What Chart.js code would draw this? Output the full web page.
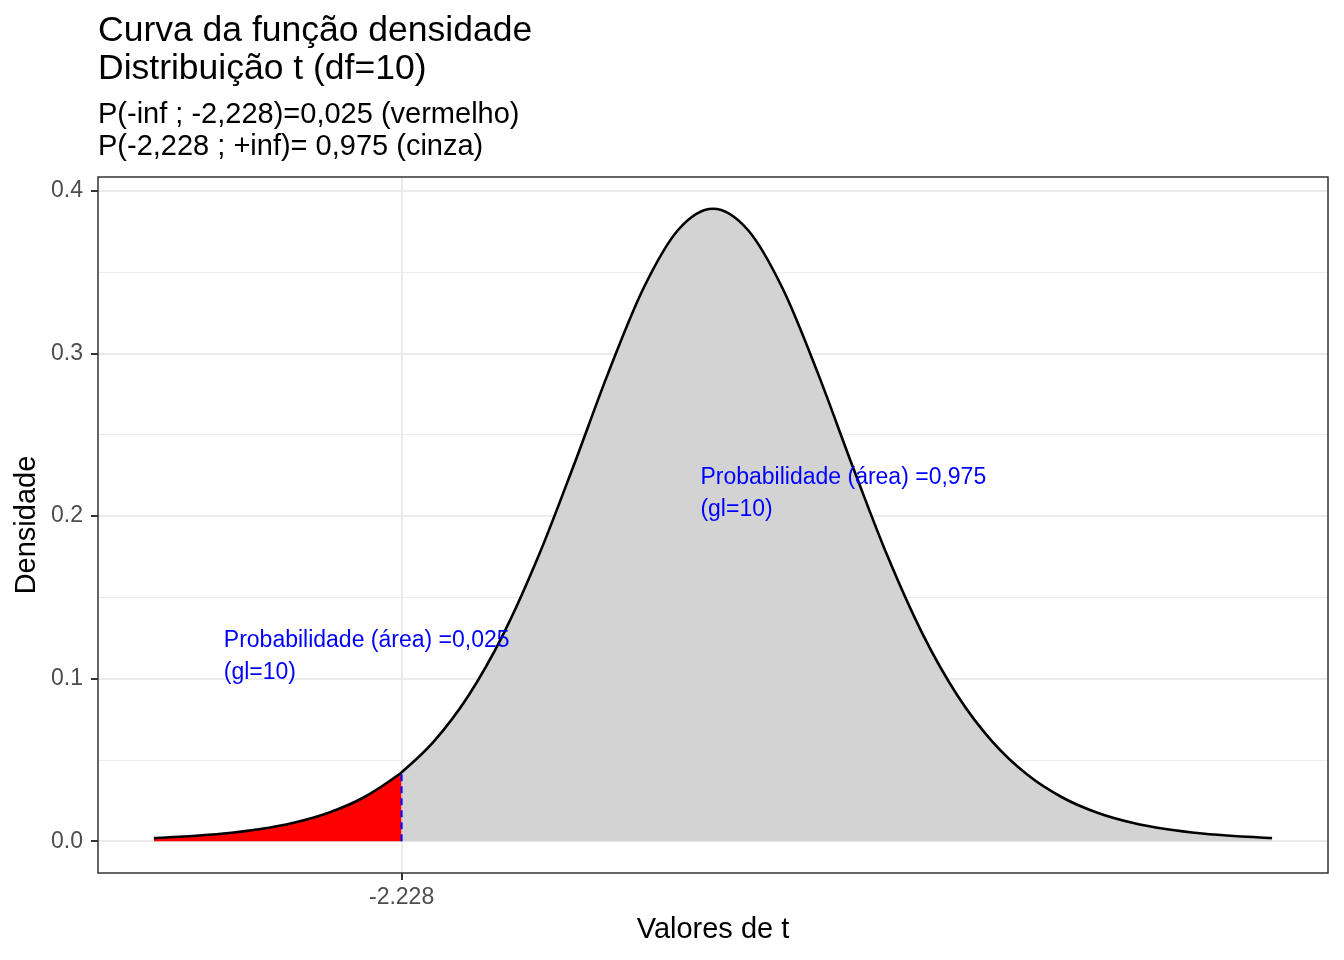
<!DOCTYPE html>
<html>
<head>
<meta charset="utf-8">
<script src="https://cdn.jsdelivr.net/npm/chart.js@4.4.1/dist/chart.umd.min.js"></script>
<style>
  body { margin: 0; background: #ffffff; }
  canvas { display: block; }
</style>
</head>
<body>
<canvas id="myChart" width="1344" height="960"></canvas>
<script>
// valores de t e densidade
const tValues = [-4, -3.75, -3.5, -3.25, -3, -2.75, -2.5, -2.25, -2.228, -2, -1.75, -1.5, -1.25, -1, -0.75, -0.5, -0.25,
    0, 0.25, 0.5, 0.75, 1, 1.25, 1.5, 1.75, 2, 2.25, 2.5, 2.75, 3, 3.25, 3.5, 3.75, 4];
const densidade = [0.00203, 0.00311, 0.00478, 0.00738, 0.01140, 0.01757, 0.02694, 0.04090, 0.04240, 0.06114, 0.08953, 0.12744, 0.17511, 0.23038, 0.28798, 0.33970, 0.37600,
    0.38911, 0.37600, 0.33970, 0.28798, 0.23038, 0.17511, 0.12744, 0.08953, 0.06114, 0.04090, 0.02694, 0.01757, 0.01140, 0.00738, 0.00478, 0.00311, 0.00203];
const tCritico = -2.228;
const xTicks = [-2.228];
const yTicks = [0, 0.05, 0.1, 0.15, 0.2, 0.25, 0.3, 0.35, 0.4];
const titulo = ['Curva da função densidade', 'Distribuição t (df=10)'];
const subtitulo = ['P(-inf ; -2,228)=0,025 (vermelho)', 'P(-2,228 ; +inf)= 0,975 (cinza)'];
const anotacoes = [
    { x: -3.5, y: 0.115, linhas: ['Probabilidade (área) =0,025', '(gl=10)'] },
    { x: -0.09, y: 0.215, linhas: ['Probabilidade (área) =0,975', '(gl=10)'] }
];

const FONT = '"Liberation Sans", Arial, Helvetica, sans-serif';

const pontos = tValues.map((t, i) => ({ x: t, y: densidade[i] }));
const pontosVermelho = pontos.filter(p => p.x <= tCritico);
const pontosCinza = pontos.filter(p => p.x >= tCritico);
const idxCritico = tValues.indexOf(tCritico);
const linhaCritica = [{ x: tCritico, y: 0 }, { x: tCritico, y: densidade[idxCritico] }];

const textos = {
    id: 'textos',
    afterDatasetsDraw(chart) {
        const ctx = chart.ctx;
        const xs = chart.scales.x;
        const ys = chart.scales.y;
        ctx.save();
        ctx.fillStyle = '#0000ff';
        ctx.font = '23px ' + FONT;
        ctx.textAlign = 'left';
        ctx.textBaseline = 'middle';
        anotacoes.forEach(a => {
            const px = xs.getPixelForValue(a.x);
            const py = ys.getPixelForValue(a.y) + 2;
            ctx.fillText(a.linhas[0], px, py - 16);
            ctx.fillText(a.linhas[1], px, py + 16);
        });
        ctx.restore();
    },
    afterDraw(chart) {
        const ctx = chart.ctx;
        const area = chart.chartArea;
        ctx.save();
        // borda do painel
        ctx.strokeStyle = '#333333';
        ctx.lineWidth = 1.5;
        ctx.strokeRect(area.left, area.top, area.right - area.left, area.bottom - area.top);

        ctx.fillStyle = '#000000';
        ctx.textAlign = 'left';
        ctx.textBaseline = 'alphabetic';
        ctx.font = '35.5px ' + FONT;
        ctx.fillText(titulo[0], 98, 41);
        ctx.fillText(titulo[1], 98, 79);
        ctx.font = '29px ' + FONT;
        ctx.fillText(subtitulo[0], 98, 123);
        ctx.fillText(subtitulo[1], 98, 155);

        ctx.textAlign = 'center';
        ctx.textBaseline = 'middle';
        ctx.fillText('Valores de t', (area.left + area.right) / 2, 930);
        ctx.translate(27, (area.top + area.bottom) / 2);
        ctx.rotate(-Math.PI / 2);
        ctx.fillText('Densidade', 0, 0);
        ctx.restore();
    }
};

const ctx = document.getElementById('myChart');
new Chart(ctx, {
    type: 'line',
    data: {
        datasets: [
            {
                data: pontos,
                borderColor: '#000000',
                borderWidth: 2.6,
                fill: false,
                pointRadius: 0,
                cubicInterpolationMode: 'monotone',
                order: 0
            },
            {
                data: linhaCritica,
                borderColor: '#0000ff',
                borderWidth: 2,
                borderDash: [7, 5],
                fill: false,
                pointRadius: 0,
                order: 1
            },
            {
                data: pontosVermelho,
                borderWidth: 0,
                borderColor: 'rgba(0,0,0,0)',
                backgroundColor: '#ff0000',
                fill: 'origin',
                pointRadius: 0,
                cubicInterpolationMode: 'monotone',
                order: 2
            },
            {
                data: pontosCinza,
                borderWidth: 0,
                borderColor: 'rgba(0,0,0,0)',
                backgroundColor: '#d3d3d3',
                fill: 'origin',
                pointRadius: 0,
                cubicInterpolationMode: 'monotone',
                order: 3
            }
        ]
    },
    options: {
        responsive: false,
        animation: false,
        layout: {
            padding: { left: 0, top: 177, right: 16, bottom: 0 }
        },
        plugins: {
            legend: { display: false },
            tooltip: { enabled: false },
            title: { display: false }
        },
        scales: {
            x: {
                type: 'linear',
                min: -4.4,
                max: 4.4,
                afterFit: s => { s.height = 87; },
                afterBuildTicks: s => { s.ticks = xTicks.map(v => ({ value: v })); },
                ticks: {
                    color: '#4d4d4d',
                    font: { family: FONT, size: 23 },
                    padding: 4,
                    maxRotation: 0,
                    callback: v => String(v)
                },
                grid: {
                    color: '#ebebeb',
                    lineWidth: 2,
                    tickColor: '#333333',
                    tickLength: 7,
                    tickWidth: 2
                },
                border: { display: false }
            },
            y: {
                type: 'linear',
                min: -0.0195,
                max: 0.4086,
                afterFit: s => { s.width = 98; },
                afterBuildTicks: s => { s.ticks = yTicks.map(v => ({ value: v })); },
                ticks: {
                    color: '#4d4d4d',
                    font: { family: FONT, size: 23 },
                    padding: 8,
                    callback: v => (Math.round(v * 100) % 10 === 0 ? v.toFixed(1) : '')
                },
                grid: {
                    color: '#ebebeb',
                    lineWidth: c => (Math.round(c.tick.value * 100) % 10 === 0 ? 2 : 1),
                    tickColor: c => (Math.round(c.tick.value * 100) % 10 === 0 ? '#333333' : 'rgba(0,0,0,0)'),
                    tickLength: 7,
                    tickWidth: 2
                },
                border: { display: false }
            }
        }
    },
    plugins: [textos]
});
</script>
</body>
</html>
